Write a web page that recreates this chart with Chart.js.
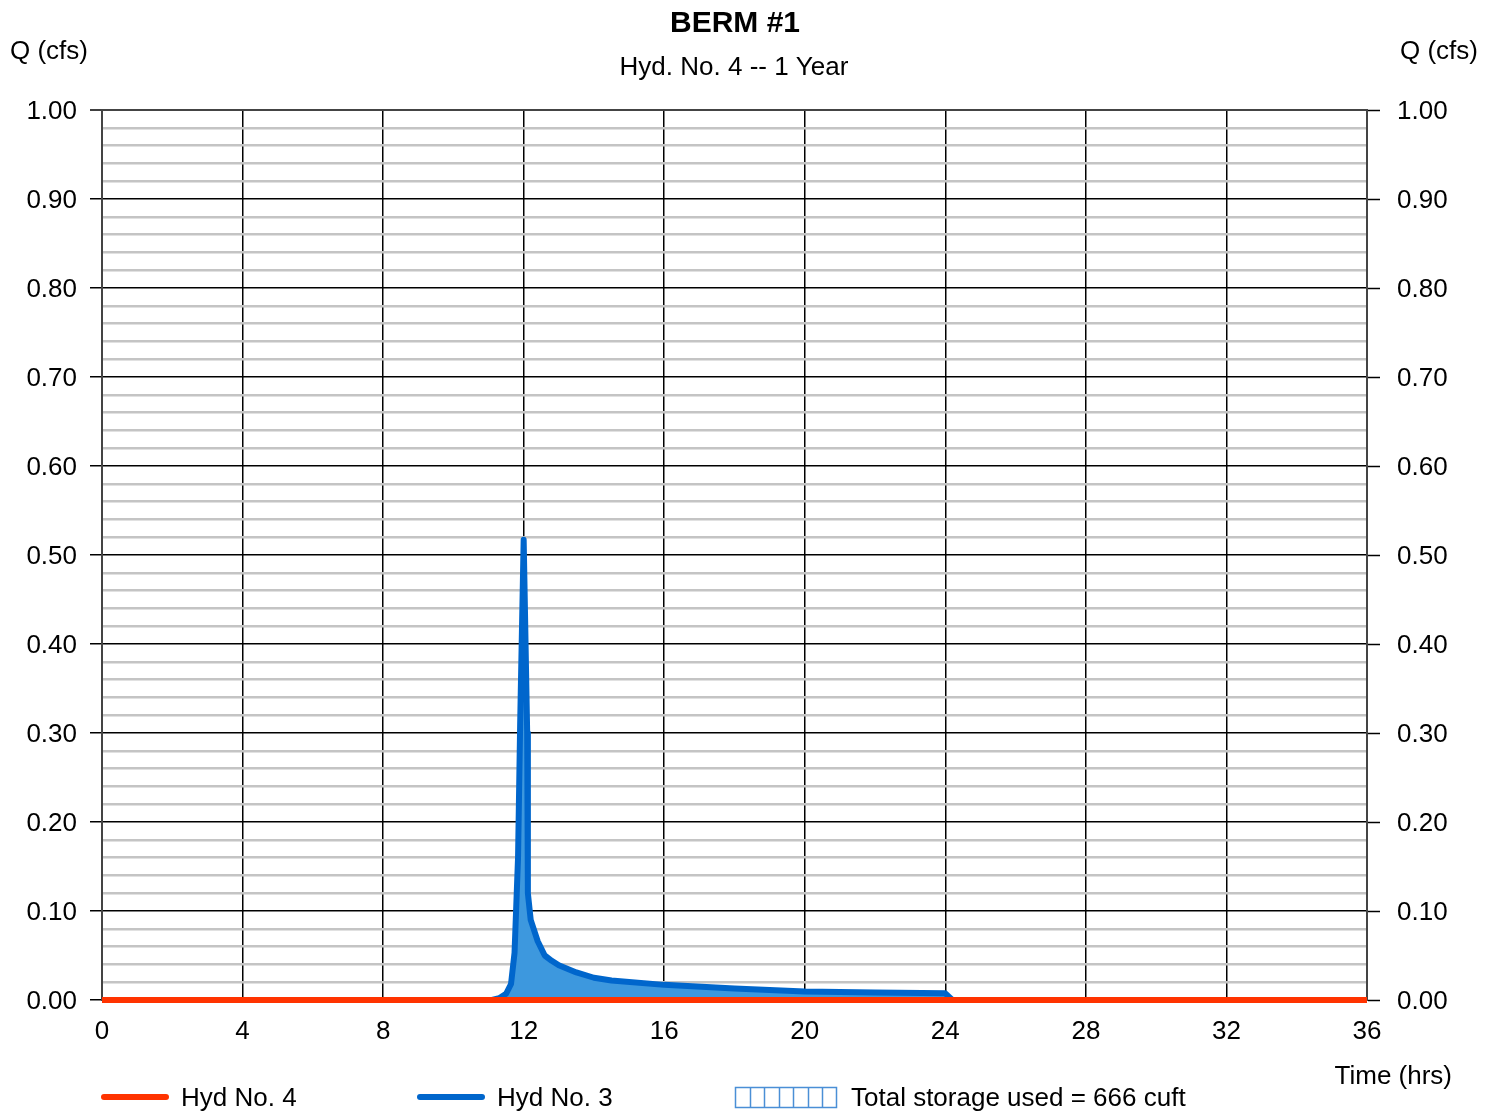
<!DOCTYPE html>
<html>
<head>
<meta charset="utf-8">
<title>BERM #1</title>
<script src="https://cdn.jsdelivr.net/npm/chart.js@4.4.0/dist/chart.umd.min.js"></script>
<style>
  html, body { margin: 0; padding: 0; background: #fff; }
  #wrap { width: 1496px; height: 1112px; position: relative; }
</style>
</head>
<body>
<div id="wrap"><canvas id="hydChart"></canvas></div>
<script>
// ===== Data =====
const hyd3Time = [0, 11.1, 11.3, 11.5, 11.64, 11.74, 11.84, 11.9, 12.0, 12.1, 12.12, 12.2, 12.4, 12.6, 12.8, 13.0, 13.5, 14.0, 14.5, 16, 18, 20, 22, 24, 24.2, 36];
const hyd3Flow = [0, 0, 0.002, 0.007, 0.018, 0.053, 0.16, 0.31, 0.517, 0.3, 0.12, 0.09, 0.066, 0.05, 0.044, 0.039, 0.031, 0.025, 0.022, 0.017, 0.013, 0.0095, 0.0085, 0.0075, 0, 0];
const hyd4Time = [0, 36];
const hyd4Flow = [0, 0];
const xTicks = [0, 4, 8, 12, 16, 20, 24, 28, 32, 36];
const yTicks = [0, 0.1, 0.2, 0.3, 0.4, 0.5, 0.6, 0.7, 0.8, 0.9, 1.0];

const FONT = '"Liberation Sans", Arial, sans-serif';
const RED = "#ff3300";
const BLUE = "#0066cc";
const FILL = "#3d98de";

const toPoints = (xs, ys) => xs.map((x, i) => ({ x: x, y: ys[i] }));
const isMajor = v => yTicks.some(t => Math.abs(t - v) < 1e-6);

// draws titles, axis captions and the bottom legend
const textPlugin = {
  id: "textPlugin",
  beforeDraw(chart) {
    const c = chart.ctx;
    c.save();
    c.fillStyle = "#fff";
    c.fillRect(0, 0, chart.width, chart.height);
    c.restore();
    // nudge the Q tick labels down a touch
    ["y", "y2"].forEach(id => {
      const s = chart.scales[id];
      s.getLabelItems().forEach(item => {
        if (!item._moved) { item.options.translation[1] += 2; item._moved = true; }
      });
    });
  },
  afterDraw(chart) {
    const c = chart.ctx;
    c.save();
    c.fillStyle = "#000";
    c.textBaseline = "middle";

    c.font = "bold 30px " + FONT;
    c.textAlign = "center";
    c.fillText("BERM #1", 735, 24);
    c.font = "26px " + FONT;
    c.fillText("Hyd. No. 4 -- 1 Year", 734, 68);

    c.textAlign = "left";
    c.fillText("Q (cfs)", 10, 52);
    c.textAlign = "right";
    c.fillText("Q (cfs)", 1478, 52);
    c.fillText("Time (hrs)", 1452, 1077);

    // legend
    const ly = 1097;
    c.lineCap = "round";
    c.lineWidth = 6;
    c.strokeStyle = RED;
    c.beginPath(); c.moveTo(104, ly); c.lineTo(166, ly); c.stroke();
    c.strokeStyle = BLUE;
    c.beginPath(); c.moveTo(420, ly); c.lineTo(482, ly); c.stroke();

    c.lineCap = "butt";
    c.lineWidth = 1.5;
    c.strokeStyle = "#4a8fd6";
    c.strokeRect(735.5, 1087.5, 101, 20);
    for (let i = 1; i < 7; i++) {
      const x = Math.round(735.5 + i * 101 / 7) + 0.5;
      c.beginPath(); c.moveTo(x, 1087.5); c.lineTo(x, 1107.5); c.stroke();
    }

    c.textAlign = "left";
    c.fillStyle = "#000";
    c.fillText("Hyd No. 4", 181, ly + 2);
    c.fillText("Hyd No. 3", 497, ly + 2);
    c.fillText("Total storage used = 666 cuft", 851, ly + 2);
    c.restore();
  }
};

const yGridColor = ctx => {
  const v = ctx.tick ? ctx.tick.value : 0;
  if (Math.abs(v - 1) < 1e-6) return "#444";
  return isMajor(v) ? "#000" : "#c4c4c4";
};
const yGridWidth = ctx => {
  const v = ctx.tick ? ctx.tick.value : 0;
  if (Math.abs(v - 1) < 1e-6) return 2;
  return isMajor(v) ? 1.5 : 2.5;
};
const yTickColor = ctx => (ctx.tick && isMajor(ctx.tick.value)) ? "#000" : "rgba(0,0,0,0)";
const yLabel = v => isMajor(v) ? Number(v).toFixed(2) : "";

document.addEventListener("DOMContentLoaded", () => {
  const ctx = document.getElementById("hydChart");

  new Chart(ctx, {
    type: "scatter",
    data: {
      datasets: [
        {
          label: "Hyd No. 4",
          data: toPoints(hyd4Time, hyd4Flow),
          showLine: true,
          borderColor: RED,
          borderWidth: 6,
          pointRadius: 0,
          fill: false,
          clip: 10
        },
        {
          label: "Hyd No. 3",
          data: toPoints(hyd3Time, hyd3Flow),
          showLine: true,
          borderColor: BLUE,
          backgroundColor: FILL,
          borderWidth: 6,
          borderJoinStyle: "round",
          pointRadius: 0,
          tension: 0,
          fill: "origin",
          clip: 10
        }
      ]
    },
    options: {
      responsive: true,
      maintainAspectRatio: false,
      animation: false,
      layout: { padding: { top: 110, left: 0, right: 0, bottom: 0 } },
      plugins: {
        legend: { display: false },
        title: { display: false },
        tooltip: { enabled: false }
      },
      scales: {
        x: {
          type: "linear",
          min: 0,
          max: 36,
          afterBuildTicks: s => { s.ticks = xTicks.map(v => ({ value: v })); },
          afterFit: s => { s.height = 112; },
          ticks: {
            color: "#000",
            padding: 16,
            font: { family: FONT, size: 26 },
            maxRotation: 0,
            autoSkip: false
          },
          grid: { color: "#000", lineWidth: 1.5, drawTicks: false },
          border: { display: true, color: "#444", width: 2 }
        },
        y: {
          type: "linear",
          position: "left",
          min: 0,
          max: 1,
          afterFit: s => { s.width = 102; },
          ticks: {
            stepSize: 0.02,
            maxTicksLimit: 100,
            autoSkip: false,
            padding: 13,
            color: "#000",
            font: { family: FONT, size: 26 },
            callback: yLabel
          },
          grid: {
            color: yGridColor,
            lineWidth: yGridWidth,
            tickLength: 12,
            tickColor: yTickColor,
            tickWidth: 1.5
          },
          border: { display: true, color: "#444", width: 2 }
        },
        y2: {
          type: "linear",
          position: "right",
          min: 0,
          max: 1,
          afterFit: s => { s.width = 129; },
          ticks: {
            stepSize: 0.02,
            maxTicksLimit: 100,
            autoSkip: false,
            padding: 17,
            color: "#000",
            font: { family: FONT, size: 26 },
            callback: yLabel
          },
          grid: {
            drawOnChartArea: false,
            tickLength: 13,
            tickColor: yTickColor,
            tickWidth: 1.5
          },
          border: { display: true, color: "#444", width: 2 }
        }
      }
    },
    plugins: [textPlugin]
  });
});
</script>
</body>
</html>
